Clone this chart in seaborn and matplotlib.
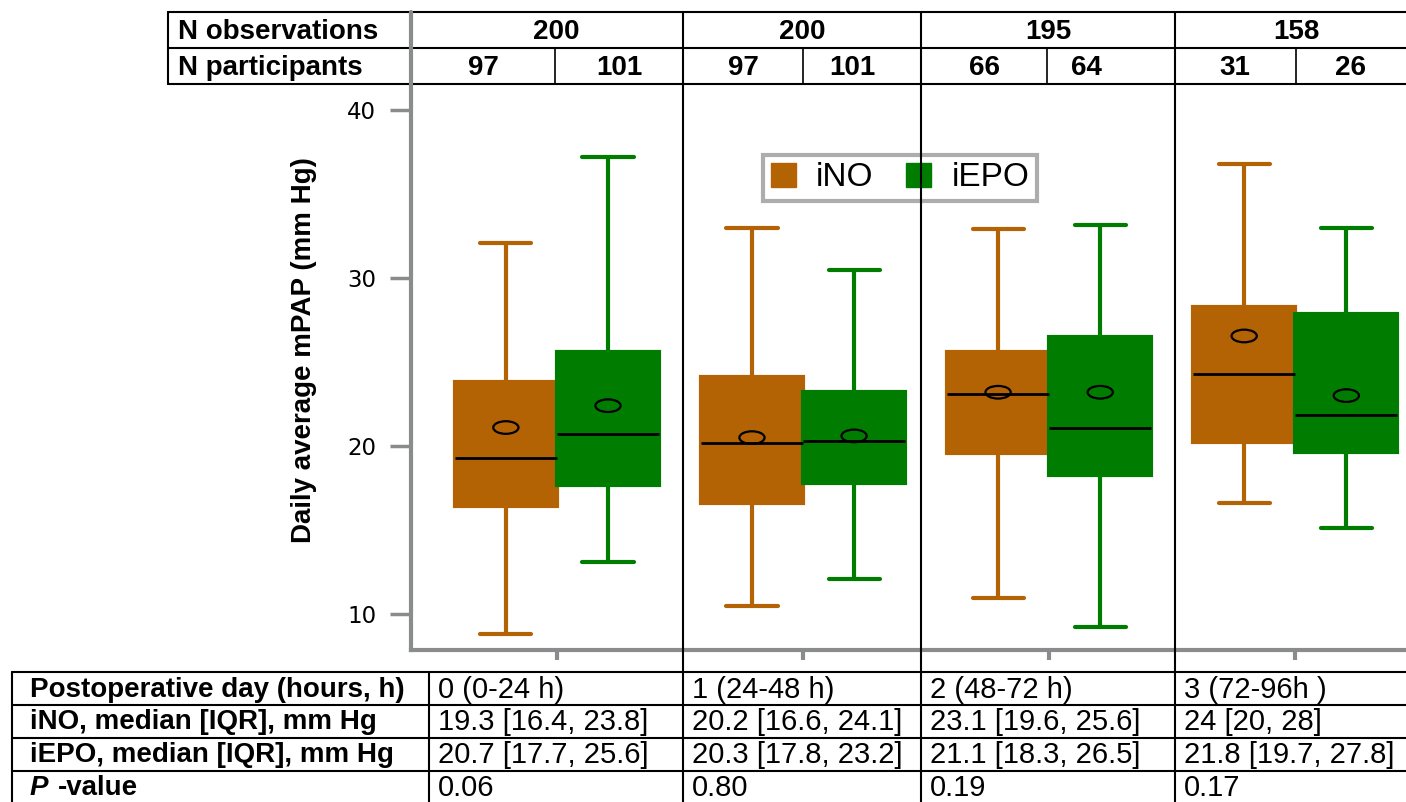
import numpy as np
import pandas as pd
import matplotlib
matplotlib.use('Agg')
import matplotlib.pyplot as plt
from matplotlib.lines import Line2D
from matplotlib.patches import Patch
from matplotlib.path import Path
from matplotlib.transforms import Affine2D
import seaborn as sns

# ---- data ----
days = ['0', '1', '2', '3']
groups = ['iNO', 'iEPO']

# lower whisker, Q1, median, Q3, upper whisker, mean
ino_low = [8.8, 10.5, 10.95, 16.6]
ino_q1 = [16.4, 16.6, 19.6, 20.25]
ino_med = [19.3, 20.2, 23.1, 24.3]
ino_q3 = [23.8, 24.1, 25.6, 28.3]
ino_high = [32.1, 33.0, 32.9, 36.8]
ino_mean = [21.1, 20.5, 23.2, 26.55]

epo_low = [13.1, 12.1, 9.2, 15.1]
epo_q1 = [17.7, 17.8, 18.3, 19.65]
epo_med = [20.7, 20.3, 21.1, 21.85]
epo_q3 = [25.6, 23.2, 26.5, 27.85]
epo_high = [37.2, 30.5, 33.15, 33.0]
epo_mean = [22.4, 20.6, 23.2, 23.0]

n_obs = ['200', '200', '195', '158']
n_part_ino = ['97', '97', '66', '31']
n_part_epo = ['101', '101', '64', '26']

row_labels = ['Postoperative day (hours, h)', 'iNO, median [IQR], mm Hg',
              'iEPO, median [IQR], mm Hg']
day_labels = ['0 (0-24 h)', '1 (24-48 h)', '2 (48-72 h)', '3 (72-96h )']
ino_summary = ['19.3 [16.4, 23.8]', '20.2 [16.6, 24.1]', '23.1 [19.6, 25.6]', '24 [20, 28]']
epo_summary = ['20.7 [17.7, 25.6]', '20.3 [17.8, 23.2]', '21.1 [18.3, 26.5]', '21.8 [19.7, 27.8]']
p_values = ['0.06', '0.80', '0.19', '0.17']

colors = {'iNO': '#B36304', 'iEPO': '#007D00'}
spine_gray = '#8a8b8d'

# long table: five points per box reproduce the five-number summary exactly
rows = []
for i, d in enumerate(days):
    for g, vals in (('iNO', (ino_low, ino_q1, ino_med, ino_q3, ino_high)),
                    ('iEPO', (epo_low, epo_q1, epo_med, epo_q3, epo_high))):
        for v in vals:
            rows.append({'day': d, 'group': g, 'mpap': v[i]})
df = pd.DataFrame(rows)
means = pd.DataFrame({'day': days * 2, 'group': ['iNO'] * 4 + ['iEPO'] * 4,
                      'mean': ino_mean + epo_mean})

sns.set_style('white')
plt.rcParams['font.family'] = ['Liberation Sans', 'DejaVu Sans']
plt.rcParams['text.color'] = 'black'
plt.rcParams['axes.labelcolor'] = 'black'
plt.rcParams['ytick.labelcolor'] = 'black'

W, H = 1406, 802
fig = plt.figure(figsize=(W / 100, H / 100), dpi=100)


def fx(x):
    return x / W


def fy(y):
    return 1 - y / H


ax = fig.add_axes([fx(411), fy(650), fx(W - 411), fy(85) - fy(650)])

width = 0.83
for g in groups:
    sns.boxplot(data=df[df['group'] == g], x='day', y='mpap', hue='group',
                order=days, hue_order=groups, palette=colors, dodge=True,
                width=width, whis=(0, 100), saturation=1, linewidth=3,
                linecolor=colors[g], fliersize=0, legend=False, ax=ax,
                medianprops={'color': 'black', 'linewidth': 2})

# mean markers (flattened circles)
ellipse = Path.unit_circle().transformed(Affine2D().scale(1, 0.5))
offsets = {'iNO': -width / 4, 'iEPO': width / 4}
mx = [days.index(d) + offsets[g] for d, g in zip(means['day'], means['group'])]
ax.scatter(mx, means['mean'], marker=ellipse, s=330, facecolors='none',
           edgecolors='black', linewidths=1.6, zorder=5)

ax.set_xlim(-0.593, 3.45)
ax.set_ylim(7.857, 41.49)
ax.set_yticks([10, 20, 30, 40])
ax.set_xticks(range(4))
ax.set_xticklabels([])
ax.set_xlabel('')
ax.set_ylabel('Daily average mPAP (mm Hg)', fontsize=20, fontweight='bold')
ax.yaxis.set_label_coords(-0.094, 0.531)
for s in ['top', 'right']:
    ax.spines[s].set_visible(False)
for s in ['left', 'bottom']:
    ax.spines[s].set_color(spine_gray)
    ax.spines[s].set_linewidth(3)
ax.tick_params(axis='y', length=15, width=2.5, color=spine_gray, pad=10,
               labelsize=16.5, left=True, labelcolor='black')
ax.tick_params(axis='x', length=7, width=3, color=spine_gray, bottom=True)
for t in ax.get_yticklabels():
    t.set_fontfamily('DejaVu Sans')

leg = ax.legend(handles=[Patch(facecolor=colors[g], edgecolor=colors[g], label=g) for g in groups],
                loc='center', bbox_to_anchor=(fx(900), fy(178)), bbox_transform=fig.transFigure,
                ncol=2, fontsize=24, frameon=True, fancybox=False, handlelength=0.75,
                handleheight=0.75, handletextpad=0.6, columnspacing=1.0, borderpad=0.22,
                borderaxespad=0)
leg.get_frame().set_edgecolor('#999999')
leg.get_frame().set_linewidth(3)
leg.set_zorder(10)


# ---- table grid ----
def line(xs, ys, color='black', lw=1.5):
    fig.add_artist(Line2D([fx(x) for x in xs], [fy(y) for y in ys], color=color,
                          lw=lw, transform=fig.transFigure, zorder=1))


for y in [12, 48, 84]:
    line([168, W], [y, y])
line([168, 168], [12, 84])
line([411, 411], [12, 86], color=spine_gray, lw=3)
for x in [683, 921, 1175]:
    line([x, x], [12, H])
for x in [555, 803, 1047, 1296]:
    line([x, x], [48, 84], lw=1.2)
for y in [672, 705, 738, 771]:
    line([12, W], [y, y])
line([12, 12], [672, H])
line([429, 429], [672, H])

# ---- top table text ----
bold = dict(fontsize=20, fontweight='bold', va='center')
fig.text(fx(178), fy(32), 'N observations', ha='left', **bold)
fig.text(fx(178), fy(68), 'N participants', ha='left', **bold)
tick_px = [556, 802, 1048, 1296]
ino_cells = [483, 743, 984, 1235]
epo_cells = [619, 852, 1086, 1351]
for i in range(4):
    fig.text(fx(tick_px[i]), fy(32), n_obs[i], ha='center', **bold)
    fig.text(fx(ino_cells[i]), fy(68), n_part_ino[i], ha='center', **bold)
    fig.text(fx(epo_cells[i]), fy(68), n_part_epo[i], ha='center', **bold)

# ---- bottom table text ----
row_y = [690, 722, 755, 788]
lab = dict(fontsize=20, fontweight='bold', va='center', ha='left')
for y, txt in zip(row_y, row_labels):
    fig.text(fx(30), fy(y), txt, **lab)
fig.text(fx(30), fy(row_y[3]), 'P', fontstyle='italic', **lab)
fig.text(fx(58), fy(row_y[3]), '-value', **lab)

col_left = [438, 692, 930, 1184]
val = dict(fontsize=21, va='center', ha='left')
for i in range(4):
    for y, col in zip(row_y, [day_labels, ino_summary, epo_summary, p_values]):
        fig.text(fx(col_left[i]), fy(y), col[i], **val)

fig.savefig('out.png', dpi=100)
